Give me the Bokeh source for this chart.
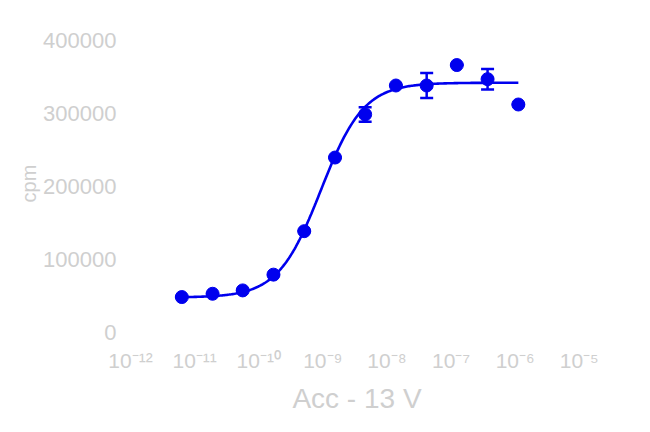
import numpy as np
from bokeh.plotting import figure
from bokeh.models import FixedTicker, Whisker, ColumnDataSource
from bokeh.embed import file_html
from bokeh.resources import INLINE

# data: log10 concentration (M), response (cpm)
log_conc = [-11.20, -10.72, -10.25, -9.77, -9.29, -8.81, -8.34, -7.86, -7.38, -6.91, -6.43, -5.95]
cpm = [48600, 53100, 57700, 79300, 138800, 239600, 298600, 338200, 338200, 366200, 346900, 312200]
cpm_err = [0, 0, 0, 0, 0, 0, 10000, 0, 17000, 0, 14000, 0]

# 4-parameter logistic fit
fit_bottom = 48000
fit_top = 342000
fit_logec50 = -9.03
fit_hill = 1.3

x_ticks = [-12, -11, -10, -9, -8, -7, -6, -5]
x_tick_labels = ["10⁻¹²", "10⁻¹¹", "10⁻¹⁰", "10⁻⁹", "10⁻⁸", "10⁻⁷", "10⁻⁶", "10⁻⁵"]
y_ticks = [0, 100000, 200000, 300000, 400000]

BLUE = "#0000EE"
TXT = "#cfcfcf"
FONT = "Liberation Sans"

p = figure(width=634, height=416, output_backend="svg", toolbar_location=None,
           x_range=(-12.094, -4.84), y_range=(-5400, 413500),
           min_border_left=124, min_border_right=45, min_border_top=30, min_border_bottom=76)
p.grid.visible = False
p.outline_line_color = None

# fitted curve
xs = np.linspace(log_conc[0], log_conc[-1], 300)
ys = fit_bottom + (fit_top - fit_bottom) / (1 + 10 ** ((fit_logec50 - xs) * fit_hill))
p.line(xs, ys, line_color=BLUE, line_width=2.6)

src = ColumnDataSource(dict(x=log_conc, y=cpm,
                            lo=[v - e for v, e in zip(cpm, cpm_err)],
                            hi=[v + e for v, e in zip(cpm, cpm_err)]))
w = Whisker(base="x", lower="lo", upper="hi", source=src, line_color=BLUE, line_width=2.5)
w.upper_head.line_color = BLUE
w.lower_head.line_color = BLUE
w.upper_head.line_width = 2.5
w.lower_head.line_width = 2.5
w.upper_head.size = 13
w.lower_head.size = 13
p.add_layout(w)
p.scatter("x", "y", source=src, size=13, fill_color=BLUE, line_color=BLUE)

for ax in (p.xaxis[0], p.yaxis[0]):
    ax.axis_line_color = None
    ax.major_tick_line_color = None
    ax.minor_tick_line_color = None
    ax.major_label_text_color = TXT
    ax.major_label_text_font = FONT
    ax.axis_label_text_color = TXT
    ax.axis_label_text_font = FONT
    ax.axis_label_text_font_style = "normal"

p.xaxis.ticker = FixedTicker(ticks=x_ticks)
p.xaxis.major_label_overrides = {t: l for t, l in zip(x_ticks, x_tick_labels)}
p.xaxis.major_label_text_font_size = "21px"
p.xaxis.major_label_standoff = 6
p.xaxis.axis_label = "Acc - 13 V"
p.xaxis.axis_label_text_font_size = "28px"
p.xaxis.axis_label_standoff = 8

p.yaxis.ticker = FixedTicker(ticks=y_ticks)
p.yaxis.major_label_overrides = {t: str(t) for t in y_ticks}
p.yaxis.major_label_text_font_size = "22px"
p.yaxis.major_label_standoff = 2
p.yaxis.axis_label = "cpm"
p.yaxis.axis_label_text_font_size = "20px"
p.yaxis.axis_label_standoff = 0

open("out.html", "w").write(file_html(p, INLINE))
